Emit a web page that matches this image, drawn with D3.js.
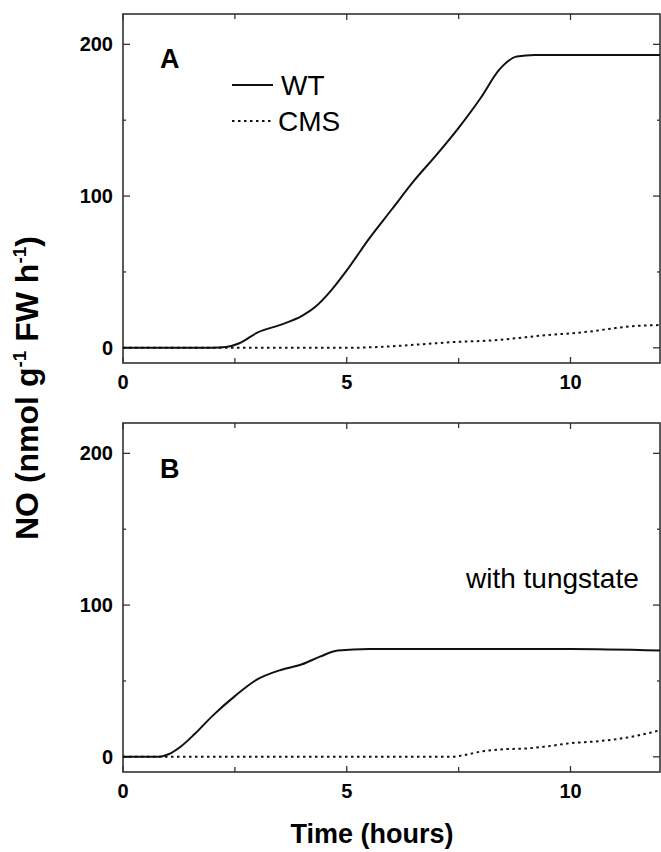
<!DOCTYPE html>
<html>
<head>
<meta charset="utf-8">
<script src="https://cdn.jsdelivr.net/npm/d3@7"></script>
<style>
  body { margin: 0; background: #fff; }
  text { font-family: "Liberation Sans", Arial, sans-serif; }
</style>
</head>
<body>
<div id="chart"></div>
<script>
// panel A (no inhibitor)
var timeWtA = [0, 1, 2, 2.3, 2.6, 3, 3.5, 4, 4.3, 4.6, 5, 5.5, 6, 6.5, 7, 7.5, 8, 8.4, 8.8, 9.2, 10, 11, 12];
var wtA     = [0, 0, 0, 0.5, 3, 10, 15, 21, 27, 36, 51, 72, 91, 110, 127, 145, 165, 183, 192, 193, 193, 193, 193];
var timeCmsA = [0, 2, 4, 5, 5.5, 6, 6.5, 7, 7.5, 8, 8.5, 9, 9.5, 10, 10.5, 11, 11.5, 12];
var cmsA     = [0, 0, 0, 0, 0.3, 1, 2, 3, 4, 4.5, 5.5, 7, 8.5, 9.5, 11, 13, 14.5, 15];

// panel B (with tungstate)
var timeWtB = [0, 0.5, 0.8, 1, 1.3, 1.6, 2, 2.5, 3, 3.5, 4, 4.4, 4.8, 5.5, 6, 8, 10, 12];
var wtB     = [0, 0, 0, 1.5, 7, 15, 27, 40, 51, 57, 61, 66, 70, 71, 71, 71, 71, 70];
var timeCmsB = [0, 2, 4, 6, 7, 7.3, 7.6, 8, 8.5, 9, 9.5, 10, 10.5, 11, 11.5, 12];
var cmsB     = [0, 0, 0, 0, 0, 0, 1, 3.5, 5, 5.5, 7, 9, 10, 11.5, 14, 17.5];

var xTicks = [0, 5, 10];
var xMinor = [2.5, 7.5];
var yTicks = [0, 100, 200];
var yMinor = [50, 150];
var seriesNames = ["WT", "CMS"];

var W = 661, H = 852;
var left = 123, right = 660;
var panelH = 349;
var panelTops = [14, 423];

var svg = d3.select("#chart").append("svg")
    .attr("width", W)
    .attr("height", H);

var x = d3.scaleLinear().domain([0, 12]).range([left, right]);

var line = d3.line()
    .x(function(d) { return x(d.t); })
    .curve(d3.curveMonotoneX);

function zipData(ts, vs) {
  return ts.map(function(t, i) { return {t: t, v: vs[i]}; });
}

function drawPanel(top, wt, cms, label, labelY) {
  var y = d3.scaleLinear().domain([-10, 220]).range([top + panelH, top]);
  line.y(function(d) { return y(d.v); });
  var g = svg.append("g");
  var bottom = top + panelH;

  // ticks, inward on all four sides
  var ink = "#333";
  xTicks.concat(xMinor).forEach(function(t) {
    var len = xTicks.indexOf(t) >= 0 ? 6 : 5;
    g.append("line").attr("x1", x(t)).attr("x2", x(t)).attr("y1", bottom).attr("y2", bottom - len)
      .attr("stroke", ink).attr("stroke-width", 1.3);
    g.append("line").attr("x1", x(t)).attr("x2", x(t)).attr("y1", top).attr("y2", top + len)
      .attr("stroke", ink).attr("stroke-width", 1.3);
  });
  yTicks.concat(yMinor).forEach(function(v) {
    var len = yTicks.indexOf(v) >= 0 ? 7 : 3;
    g.append("line").attr("x1", left).attr("x2", left + len).attr("y1", y(v)).attr("y2", y(v))
      .attr("stroke", ink).attr("stroke-width", 1.3);
    g.append("line").attr("x1", right).attr("x2", right - len).attr("y1", y(v)).attr("y2", y(v))
      .attr("stroke", ink).attr("stroke-width", 1.3);
  });

  // frame
  g.append("rect")
    .attr("x", left).attr("y", top)
    .attr("width", right - left).attr("height", panelH)
    .attr("fill", "none").attr("stroke", ink).attr("stroke-width", 1.6);

  // tick labels
  g.selectAll(".xl").data(xTicks).enter().append("text")
    .attr("x", function(d) { return x(d); })
    .attr("y", bottom + 26)
    .attr("text-anchor", "middle")
    .style("font-size", "20px").style("font-weight", "bold")
    .text(function(d) { return d; });
  g.selectAll(".yl").data(yTicks).enter().append("text")
    .attr("x", left - 10)
    .attr("y", function(d) { return y(d) + 7; })
    .attr("text-anchor", "end")
    .style("font-size", "20px").style("font-weight", "bold")
    .text(function(d) { return d; });

  // curves
  g.append("path").datum(zipData(wt[0], wt[1]))
    .attr("d", line).attr("fill", "none")
    .attr("stroke", "#111").attr("stroke-width", 2);
  g.append("path").datum(zipData(cms[0], cms[1]))
    .attr("d", line).attr("fill", "none")
    .attr("stroke", "#111").attr("stroke-width", 2)
    .attr("stroke-dasharray", "2.5,3.5");

  g.append("text")
    .attr("x", 160).attr("y", labelY)
    .style("font-size", "27px").style("font-weight", "bold")
    .text(label);
  return g;
}

var gA = drawPanel(panelTops[0], [timeWtA, wtA], [timeCmsA, cmsA], "A", 68);
var gB = drawPanel(panelTops[1], [timeWtB, wtB], [timeCmsB, cmsB], "B", 478);

// legend in panel A
var legend = gA.selectAll(".legend").data(seriesNames).enter().append("g")
    .attr("transform", function(d, i) { return "translate(232," + (85 + i * 36) + ")"; });
legend.append("line")
    .attr("x1", 0).attr("x2", 41).attr("y1", 0).attr("y2", 0)
    .attr("stroke", "#111").attr("stroke-width", 2)
    .attr("stroke-dasharray", function(d, i) { return i ? "2.5,3.5" : null; });
legend.append("text")
    .attr("x", function(d, i) { return i ? 46 : 49; })
    .attr("y", 10)
    .style("font-size", "28px")
    .text(function(d) { return d; });

gB.append("text")
    .attr("x", 466).attr("y", 588)
    .style("font-size", "28px")
    .text("with tungstate");

// axis titles
svg.append("text")
    .attr("x", 372).attr("y", 843)
    .attr("text-anchor", "middle")
    .style("font-size", "27px").style("font-weight", "bold")
    .text("Time (hours)");

var yt = svg.append("text")
    .attr("transform", "translate(38,388) rotate(-90)")
    .attr("text-anchor", "middle")
    .style("font-size", "32px").style("font-weight", "bold");
yt.append("tspan").text("NO (nmol g");
yt.append("tspan").attr("dy", -12).style("font-size", "19px").text("-1");
yt.append("tspan").attr("dy", 12).text(" FW h");
yt.append("tspan").attr("dy", -12).style("font-size", "19px").text("-1");
yt.append("tspan").attr("dy", 12).text(")");
</script>
</body>
</html>
